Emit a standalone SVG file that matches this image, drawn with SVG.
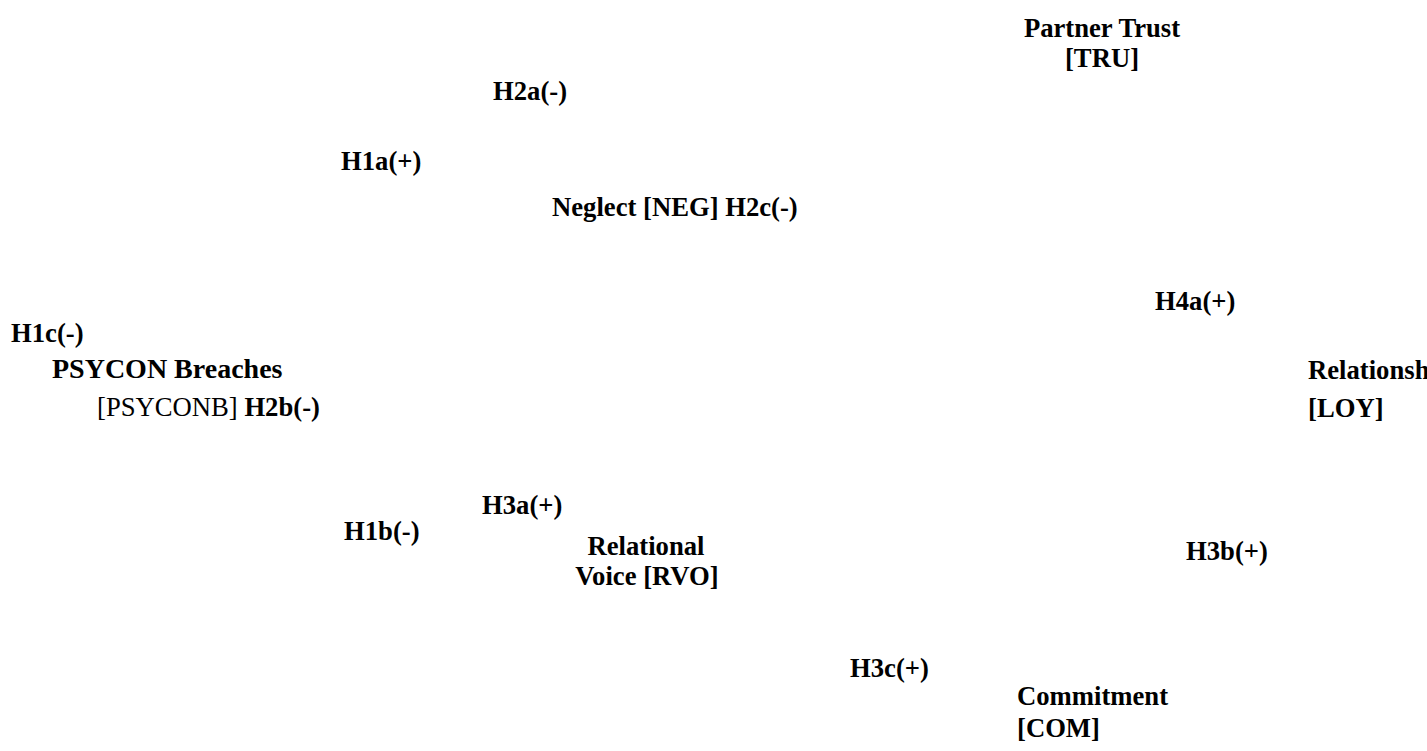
<svg xmlns="http://www.w3.org/2000/svg" width="1427" height="751" viewBox="0 0 1427 751">
<style>
text{font-family:"Liberation Serif","Times New Roman",serif;font-size:26.67px;font-weight:bold;fill:#000}
.r{font-weight:normal}
.m{text-anchor:middle}
</style>
<rect width="1427" height="751" fill="#fff"/>
<g id="node-tru"><text class="m" x="1102" y="37">Partner Trust</text><text class="m" x="1102" y="67">[TRU]</text></g>
<g id="node-neg"><text x="552" y="216">Neglect [NEG] <tspan>H2c(-)</tspan></text></g>
<g id="node-psyconb"><text x="52" y="378" style="font-size:28px">PSYCON Breaches</text><text x="97" y="416"><tspan class="r">[PSYCONB]</tspan> H2b(-)</text></g>
<g id="node-loy"><text x="1308" y="379">Relationsh</text><text x="1308" y="417">[LOY]</text></g>
<g id="node-rvo"><text class="m" x="646" y="555">Relational</text><text class="m" x="647" y="585">Voice [RVO]</text></g>
<g id="node-com"><text x="1017" y="705">Commitment</text><text x="1017" y="737">[COM]</text></g>
<g id="connectors">
<text x="493" y="100">H2a(-)</text>
<text x="341" y="170">H1a(+)</text>
<text x="1155" y="310">H4a(+)</text>
<text x="11" y="342">H1c(-)</text>
<text x="482" y="514">H3a(+)</text>
<text x="344" y="540">H1b(-)</text>
<text x="1186" y="560">H3b(+)</text>
<text x="850" y="677">H3c(+)</text>
</g>
</svg>
